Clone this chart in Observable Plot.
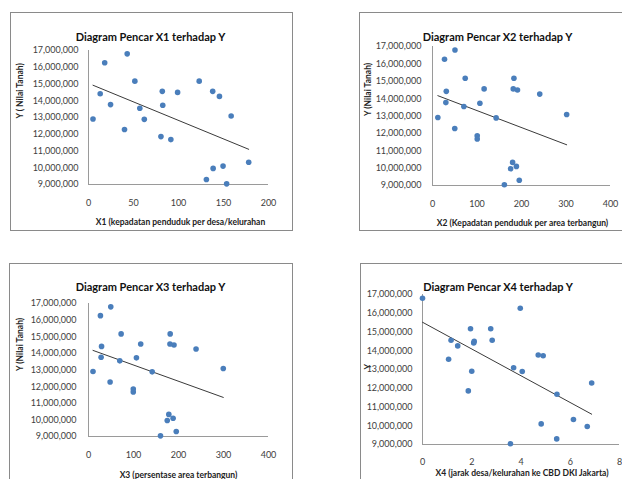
<!DOCTYPE html>
<html>
<head>
<meta charset="utf-8">
<script src="https://cdn.jsdelivr.net/npm/d3@7"></script>
<script src="https://cdn.jsdelivr.net/npm/@observablehq/plot@0.6"></script>
<style>
  html, body { margin: 0; padding: 0; background: #fff; }
  body { width: 622px; height: 479px; overflow: hidden; position: relative; font-family: Lato, sans-serif; }
  .box { position: absolute; border: 1px solid #8a8a8a; box-sizing: border-box; }
  .chart { position: absolute; }
</style>
</head>
<body>
<div id="root"></div>
<script>
// Y: Nilai Tanah (land value), shared by all four scatter plots
const Y  = [12910000, 14420000, 16270000, 13770000, 12280000, 16800000, 15170000, 13550000, 12890000, 11860000, 14560000, 13730000, 11680000, 14500000, 15170000, 9300000, 14560000, 9960000, 14260000, 10100000, 9040000, 13090000, 10330000];
// X1: kepadatan penduduk per desa/kelurahan
const X1 = [5, 13, 18, 24.5, 40, 43, 51.5, 57, 62, 80.5, 82, 82.5, 91.5, 99, 123, 131, 138, 138.5, 145.5, 149.5, 153.5, 158.5, 178];
// X2: kepadatan penduduk per area terbangun
const X2 = [12, 31, 27, 30, 50, 50.5, 73.5, 70.5, 143, 100.5, 116, 106.5, 100.5, 191, 183, 195, 181.5, 175.5, 241, 188.5, 161.5, 301.5, 180];
// X3: persentase area terbangun
const X3 = [10, 29, 26.5, 28, 48, 49.5, 72.5, 69.5, 141.5, 99.5, 116, 106.5, 99.5, 190, 181.5, 195, 181, 175, 239, 188, 160, 299.5, 178.5];
// X4: jarak desa/kelurahan ke CBD DKI Jakarta
const X4 = [2.0, 2.08, 3.97, 4.7, 6.87, 0, 1.95, 1.06, 4.05, 1.86, 1.16, 4.9, 5.46, 2.1, 2.77, 5.45, 2.83, 6.69, 1.43, 4.82, 3.57, 3.7, 6.13];

const titles = ["Diagram Pencar X1 terhadap Y", "Diagram Pencar X2 terhadap Y", "Diagram Pencar X3 terhadap Y", "Diagram Pencar X4 terhadap Y"];
const xLabels = ["X1 (kepadatan penduduk per desa/kelurahan", "X2 (Kepadatan penduduk per area terbangun)", "X3 (persentase area terbangun)", "X4 (jarak desa/kelurahan ke CBD DKI Jakarta)"];
const yLabels = ["Y ( Nilai Tanah)", "Y (Nilai Tanah)", "Y (Nilai Tanah)", "Y"];
const xTickSets = [[0, 50, 100, 150, 200], [0, 100, 200, 300, 400], [0, 100, 200, 300, 400], [0, 2, 4, 6, 8]];
const yTicks = [9000000, 10000000, 11000000, 12000000, 13000000, 14000000, 15000000, 16000000, 17000000];

const panels = [
  {xs: X1, left: 10, top: 12, w: 282, h: 218, bw: 283, bh: 219, ml: 78, mr: 24, mt: 38, mb: 46, ypad: 10, xpad: 15, t: [-28, -17], xl: [2, 40], yl: [-68, 1], ylSize: 8.5},
  {xs: X2, left: 359, top: 12, w: 263, h: 218, bw: 300, bh: 219, ml: 73, mr: 12, mt: 34, mb: 45, ypad: 11, xpad: 15, t: [-24, -13], xl: [1, 40], yl: [-64, 0], ylSize: 8.5},
  {xs: X3, left: 9, top: 263, w: 283, h: 216, bw: 284, bh: 260, ml: 79, mr: 24, mt: 40, mb: 43, ypad: 12, xpad: 15, t: [-28, -20], xl: [0, 41], yl: [-68, 1], ylSize: 8.5},
  {xs: X4, left: 360, top: 263, w: 262, h: 216, bw: 300, bh: 260, ml: 62, mr: 3, mt: 31, mb: 35, ypad: 10, xpad: 14, t: [-23, -11], xl: [1, 31], yl: [-54, 0], ylSize: 8.5}
];

const root = document.getElementById("root");
panels.forEach((p, i) => {
  const box = document.createElement("div");
  box.className = "box";
  Object.assign(box.style, {left: p.left + "px", top: p.top + "px", width: p.bw + "px", height: p.bh + "px"});
  root.appendChild(box);

  const data = Y.map((y, k) => ({x: p.xs[k], y}));
  const xt = xTickSets[i];
  const chart = Plot.plot({
    width: p.w,
    height: p.h,
    marginLeft: p.ml,
    marginRight: p.mr,
    marginTop: p.mt,
    marginBottom: p.mb,
    style: {fontFamily: "Lato, sans-serif", fontSize: "9px", color: "#404040", background: "transparent", overflow: "visible"},
    x: {domain: [xt[0], xt[xt.length - 1]], ticks: xt, tickSize: 0, tickPadding: p.xpad, label: null},
    y: {domain: [9000000, 17000000], ticks: yTicks, tickSize: 0, tickPadding: p.ypad, tickFormat: d3.format(","), label: null},
    marks: [
      Plot.ruleY([9000000], {stroke: "#9a9a9a", strokeWidth: 1}),
      Plot.ruleX([xt[0]], {stroke: "#9a9a9a", strokeWidth: 1}),
      Plot.linearRegressionY(data, {x: "x", y: "y", ci: 0, stroke: "#3a3a3a", strokeWidth: 1}),
      Plot.dot(data, {x: "x", y: "y", r: 2.8, fill: "#4A7EBB", stroke: "none"}),
      Plot.text([titles[i]], {frameAnchor: "top", dx: p.t[0], dy: p.t[1], fontSize: 11, fontWeight: "bold", fill: "#111"}),
      Plot.text([xLabels[i]], {frameAnchor: "bottom", dx: p.xl[0], dy: p.xl[1], fontSize: 8.5, fontWeight: "bold", fill: "#222"}),
      Plot.text([yLabels[i]], {frameAnchor: "left", dx: p.yl[0], dy: p.yl[1], rotate: -90, fontSize: p.ylSize, fontWeight: "bold", fill: "#222"})
    ]
  });
  chart.classList.add("chart");
  chart.style.left = p.left + "px";
  chart.style.top = p.top + "px";
  root.appendChild(chart);
});
</script>
</body>
</html>
